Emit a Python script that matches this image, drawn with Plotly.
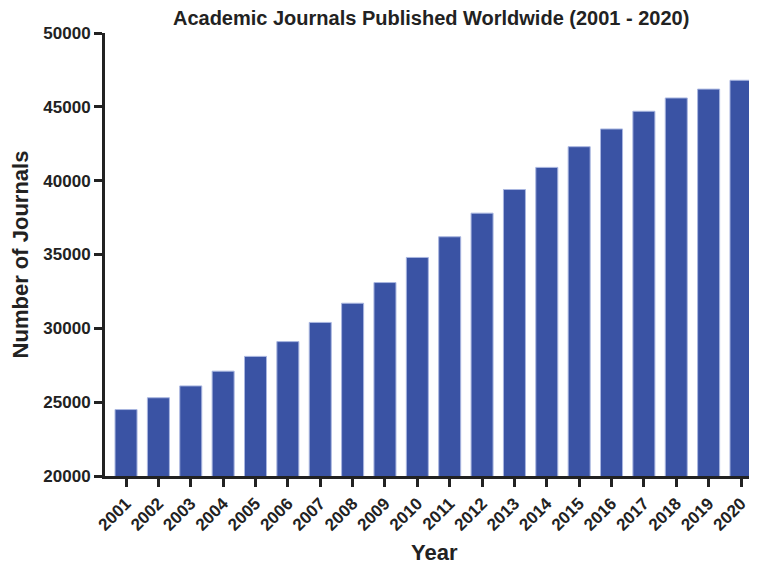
import plotly.graph_objects as go

years = [str(y) for y in range(2001, 2021)]
journals = [24500, 25300, 26100, 27100, 28100, 29100, 30400, 31700, 33100, 34800,
            36200, 37800, 39400, 40900, 42300, 43500, 44700, 45600, 46200, 46800]
y_ticks = [20000, 25000, 30000, 35000, 40000, 45000, 50000]

FONT = "Liberation Sans, Arial, sans-serif"
INK = "#222222"

fig = go.Figure(go.Bar(
    x=years, y=journals,
    marker=dict(color="#3a53a4", line=dict(color="#a9b6e0", width=1)),
    width=0.68,
))

fig.update_layout(
    width=749, height=556,
    margin=dict(l=97, r=5, t=25, b=88, autoexpand=False),
    paper_bgcolor="white", plot_bgcolor="white",
    showlegend=False,
    font=dict(family=FONT, color=INK),
    title=dict(text="Academic Journals Published Worldwide (2001 - 2020)",
               font=dict(size=20, weight="bold", color=INK, family=FONT),
               x=0.565, xanchor="center", y=0.982, yanchor="middle"),
    annotations=[dict(text="Year", xref="paper", yref="paper", x=0.509, y=-0.172,
                      xanchor="center", yanchor="middle", showarrow=False,
                      font=dict(size=22, weight="bold", color=INK, family=FONT))],
)
fig.update_xaxes(
    range=[-0.65, 19.34], showline=True, linecolor=INK, linewidth=3,
    ticks="outside", ticklen=8, tickwidth=3, tickcolor=INK, automargin=False,
    tickangle=-45, tickfont=dict(size=17, weight="bold", color=INK, family=FONT),
    showgrid=False, zeroline=False,
)
fig.update_yaxes(
    range=[20000, 50000], tickvals=y_ticks, ticktext=[str(v) for v in y_ticks],
    showline=True, linecolor=INK, linewidth=3, automargin=False,
    ticks="outside", ticklen=8, tickwidth=3, tickcolor=INK,
    tickfont=dict(size=17, weight="bold", color=INK, family=FONT),
    showgrid=False, zeroline=False,
    title=dict(text="Number of Journals", font=dict(size=22, weight="bold", color=INK, family=FONT), standoff=10),
)

fig.write_html("out.html")
